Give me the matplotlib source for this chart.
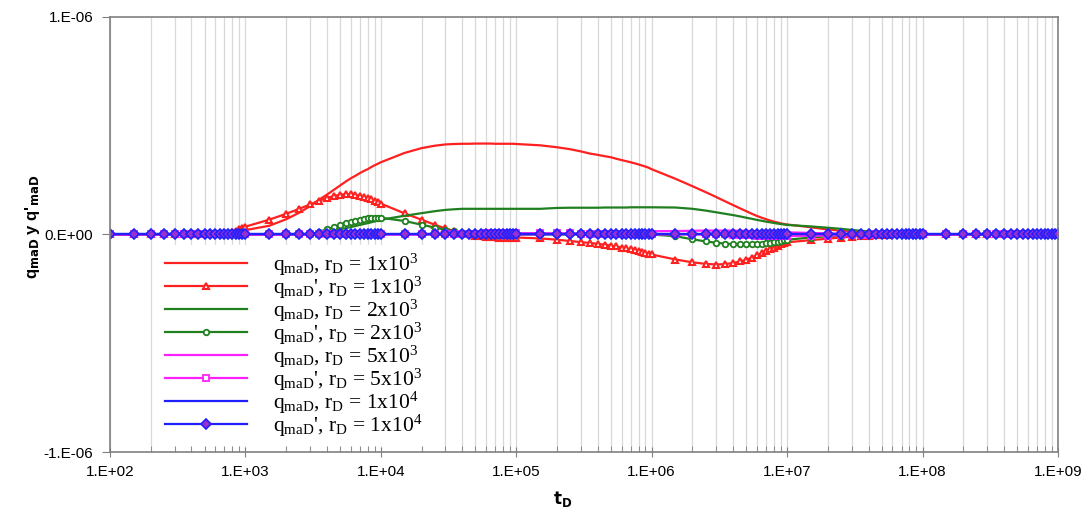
import numpy as np
import matplotlib
matplotlib.use("Agg")
import matplotlib.pyplot as plt

# tiempo adimensional: 1.0, 1.5, ..., 9.5 por decada (1e2 .. 1e9)
mult = [1.0, 1.5, 2.0, 2.5, 3.0, 3.5, 4.0, 4.5, 5.0, 5.5, 6.0, 6.5, 7.0, 7.5, 8.0, 8.5, 9.0, 9.5]
decadas = [2, 3, 4, 5, 6, 7, 8]
t_D = np.array([m * 10.0 ** d for d in decadas for m in mult] + [1e9])

# valores en unidades de 1e-6, una fila por decada
q_1e3 = [
    [0, 0, 0, 0, 0, 0, 0, 0, 0, 0, 0, 0, 0.0, 0.002, 0.005, 0.008, 0.012, 0.016],
    [0.02, 0.04, 0.07, 0.10, 0.13, 0.16, 0.183, 0.205, 0.225, 0.243, 0.258, 0.27, 0.282, 0.292, 0.30, 0.31, 0.318, 0.325],
    [0.332, 0.375, 0.397, 0.408, 0.414, 0.416, 0.417, 0.417, 0.418, 0.418, 0.418, 0.418, 0.417, 0.417, 0.417, 0.417, 0.417, 0.417],
    [0.416, 0.41, 0.401, 0.392, 0.382, 0.372, 0.366, 0.36, 0.355, 0.348, 0.342, 0.337, 0.332, 0.327, 0.322, 0.317, 0.312, 0.307],
    [0.30, 0.256, 0.222, 0.195, 0.172, 0.152, 0.135, 0.12, 0.107, 0.095, 0.085, 0.077, 0.07, 0.064, 0.059, 0.055, 0.051, 0.048],
    [0.046, 0.033, 0.023, 0.017, 0.013, 0.009, 0.006, 0.004, 0.002, 0.001, 0, 0, 0, 0, 0, 0, 0, 0],
    [0, 0, 0, 0, 0, 0, 0, 0, 0, 0, 0, 0, 0, 0, 0, 0, 0, 0],
    [0],
]
dq_1e3 = [
    [0, 0, 0, 0, 0, 0, 0, 0, 0, 0, 0, 0, 0.0, 0.005, 0.012, 0.018, 0.024, 0.029],
    [0.036, 0.068, 0.095, 0.118, 0.138, 0.155, 0.168, 0.177, 0.183, 0.185, 0.184, 0.181, 0.177, 0.172, 0.167, 0.161, 0.155, 0.149],
    [0.142, 0.097, 0.068, 0.045, 0.028, 0.016, 0.007, 0.0, -0.005, -0.008, -0.010, -0.012, -0.013, -0.014, -0.014, -0.014, -0.014, -0.014],
    [-0.014, -0.018, -0.024, -0.030, -0.035, -0.039, -0.043, -0.047, -0.051, -0.055, -0.06, -0.064, -0.068, -0.072, -0.076, -0.08, -0.084, -0.088],
    [-0.092, -0.115, -0.128, -0.135, -0.138, -0.136, -0.131, -0.124, -0.116, -0.106, -0.096, -0.086, -0.077, -0.068, -0.06, -0.052, -0.045, -0.040],
    [-0.036, -0.026, -0.019, -0.014, -0.010, -0.007, -0.005, -0.003, -0.002, -0.001, 0, 0, 0, 0, 0, 0, 0, 0],
    [0, 0, 0, 0, 0, 0, 0, 0, 0, 0, 0, 0, 0, 0, 0, 0, 0, 0],
    [0],
]
q_2e3 = [
    [0, 0, 0, 0, 0, 0, 0, 0, 0, 0, 0, 0, 0, 0, 0, 0, 0, 0],
    [0, 0, 0, 0, 0.0, 0.006, 0.012, 0.018, 0.024, 0.029, 0.034, 0.039, 0.044, 0.048, 0.052, 0.056, 0.06, 0.064],
    [0.068, 0.086, 0.098, 0.107, 0.113, 0.116, 0.118, 0.118, 0.118, 0.118, 0.118, 0.118, 0.118, 0.118, 0.118, 0.118, 0.118, 0.118],
    [0.118, 0.118, 0.122, 0.123, 0.123, 0.123, 0.123, 0.124, 0.124, 0.124, 0.124, 0.124, 0.125, 0.125, 0.125, 0.125, 0.125, 0.125],
    [0.125, 0.124, 0.118, 0.11, 0.102, 0.095, 0.089, 0.083, 0.077, 0.072, 0.067, 0.063, 0.059, 0.056, 0.053, 0.05, 0.048, 0.046],
    [0.044, 0.037, 0.031, 0.026, 0.021, 0.017, 0.014, 0.011, 0.009, 0.007, 0.005, 0.004, 0.003, 0.002, 0.002, 0.001, 0.001, 0.0],
    [0, 0, 0, 0, 0, 0, 0, 0, 0, 0, 0, 0, 0, 0, 0, 0, 0, 0],
    [0],
]
dq_2e3 = [
    [0, 0, 0, 0, 0, 0, 0, 0, 0, 0, 0, 0, 0, 0, 0, 0, 0, 0],
    [0, 0, 0, 0, 0.0, 0.012, 0.024, 0.034, 0.043, 0.051, 0.058, 0.064, 0.068, 0.072, 0.075, 0.077, 0.078, 0.078],
    [0.077, 0.062, 0.045, 0.032, 0.022, 0.014, 0.008, 0.004, 0.002, 0.001, 0, 0, 0, 0, 0, 0, 0, 0],
    [0, 0, 0, 0, 0, 0, 0, 0, 0, 0, 0, 0, 0, 0, 0, 0, 0, 0],
    [0.0, -0.008, -0.022, -0.032, -0.038, -0.042, -0.045, -0.046, -0.046, -0.046, -0.045, -0.043, -0.041, -0.039, -0.036, -0.033, -0.030, -0.027],
    [-0.024, -0.014, -0.008, -0.005, -0.003, -0.002, -0.001, 0, 0, 0, 0, 0, 0, 0, 0, 0, 0, 0],
    [0, 0, 0, 0, 0, 0, 0, 0, 0, 0, 0, 0, 0, 0, 0, 0, 0, 0],
    [0],
]
q_5e3 = [
    [0, 0, 0, 0, 0, 0, 0, 0, 0, 0, 0, 0, 0, 0, 0, 0, 0, 0],
    [0, 0, 0, 0, 0, 0, 0, 0, 0, 0, 0, 0, 0, 0, 0, 0, 0, 0],
    [0, 0, 0, 0, 0, 0, 0, 0, 0, 0, 0, 0, 0, 0, 0, 0, 0, 0],
    [0.0, 0.001, 0.002, 0.003, 0.004, 0.005, 0.006, 0.007, 0.008, 0.009, 0.010, 0.011, 0.012, 0.012, 0.013, 0.013, 0.014, 0.014],
    [0.015, 0.016, 0.017, 0.018, 0.018, 0.018, 0.018, 0.017, 0.017, 0.016, 0.015, 0.015, 0.014, 0.013, 0.013, 0.012, 0.012, 0.011],
    [0.010, 0.007, 0.005, 0.003, 0.002, 0.001, 0, 0, 0, 0, 0, 0, 0, 0, 0, 0, 0, 0],
    [0, 0, 0, 0, 0, 0, 0, 0, 0, 0, 0, 0, 0, 0, 0, 0, 0, 0],
    [0],
]
dq_5e3 = [
    [0, 0, 0, 0, 0, 0, 0, 0, 0, 0, 0, 0, 0, 0, 0, 0, 0, 0],
    [0, 0, 0, 0, 0, 0, 0, 0, 0, 0, 0, 0, 0, 0, 0, 0, 0, 0],
    [0, 0, 0, 0, 0, 0, 0, 0.002, 0.003, 0.004, 0.005, 0.005, 0.006, 0.006, 0.006, 0.006, 0.006, 0.006],
    [0.006, 0.006, 0.005, 0.005, 0.004, 0.004, 0.003, 0.003, 0.002, 0.002, 0.001, 0.001, 0, 0, 0, 0, 0, 0],
    [0, 0, 0, 0, 0, 0, -0.001, -0.002, -0.003, -0.004, -0.005, -0.006, -0.006, -0.007, -0.007, -0.007, -0.007, -0.007],
    [-0.007, -0.006, -0.005, -0.004, -0.003, -0.002, -0.001, 0, 0, 0, 0, 0, 0, 0, 0, 0, 0, 0],
    [0, 0, 0, 0, 0, 0, 0, 0, 0, 0, 0, 0, 0, 0, 0, 0, 0, 0],
    [0],
]
q_1e4 = [0.0] * len(t_D)
dq_1e4 = [0.0] * len(t_D)


def serie(filas):
    return np.concatenate([np.array(f, dtype=float) for f in filas]) * 1e-6


plt.rcParams['font.family'] = ['Liberation Sans', 'DejaVu Sans']
plt.rcParams['mathtext.fontset'] = 'custom'
plt.rcParams['mathtext.rm'] = 'Liberation Serif'
plt.rcParams['mathtext.it'] = 'Liberation Serif:italic'

fig = plt.figure(figsize=(10.88, 5.14), dpi=100)
ax = fig.add_axes([0.101, 0.1206, 0.8714, 0.8464])

lw = 1.6
ax.plot(t_D, serie(q_1e3), color='#ff2020', lw=lw,
        label=r'q$_{\rm maD}$, r$_{\rm D}$ = 1x10$^{3}$')
ax.plot(t_D, serie(dq_1e3), color='#ff2020', lw=lw, marker='^', ms=4,
        mfc='white', mew=1.5, label=r"q$_{\rm maD}$', r$_{\rm D}$ = 1x10$^{3}$")
ax.plot(t_D, serie(q_2e3), color='#208020', lw=lw,
        label=r'q$_{\rm maD}$, r$_{\rm D}$ = 2x10$^{3}$')
ax.plot(t_D, serie(dq_2e3), color='#208020', lw=lw, marker='o', ms=4,
        mfc='white', mew=1.3, label=r"q$_{\rm maD}$', r$_{\rm D}$ = 2x10$^{3}$")
ax.plot(t_D, serie(q_5e3), color='#ff20ff', lw=lw,
        label=r'q$_{\rm maD}$, r$_{\rm D}$ = 5x10$^{3}$')
ax.plot(t_D, serie(dq_5e3), color='#ff20ff', lw=lw, marker='s', ms=4.5,
        mfc='white', mew=1.3, label=r"q$_{\rm maD}$', r$_{\rm D}$ = 5x10$^{3}$")
ax.plot(t_D, np.array(q_1e4) * 1e-6, color='#2020ff', lw=lw,
        label=r'q$_{\rm maD}$, r$_{\rm D}$ = 1x10$^{4}$')
ax.plot(t_D, np.array(dq_1e4) * 1e-6, color='#2020ff', lw=lw, marker='D',
        ms=5, mfc='#9a30d0', mec='#2020ff', mew=1.2,
        label=r"q$_{\rm maD}$', r$_{\rm D}$ = 1x10$^{4}$")

ax.set_xscale('log')
ax.set_xlim(1e2, 1e9)
ax.set_ylim(-1e-6, 1e-6)
ax.set_yticks([-1e-6, 0, 1e-6])
ax.set_yticklabels(['-1.E-06', '0.E+00', '1.E-06'])
ax.set_xticks([10.0 ** d for d in range(2, 10)])
ax.set_xticklabels(['1.E+%02d' % d for d in range(2, 10)])

ax.grid(True, which='both', axis='x', color='#d8d8d8', lw=0.9)
ax.set_axisbelow(True)
for s in ax.spines.values():
    s.set_color('#808080')
    s.set_linewidth(1.2)
ax.tick_params(axis='x', which='major', direction='inout', length=7, color='#808080',
               labelsize=11, pad=6)
ax.tick_params(axis='x', which='minor', direction='in', length=4, color='#808080')
ax.tick_params(axis='y', which='major', direction='out', length=6, color='#808080',
               labelsize=11, pad=6)

ax.set_xlabel(r'$\mathbf{t_D}$', fontsize=12, fontweight='bold')
ax.xaxis.set_label_coords(0.478, -0.085)
ax.set_ylabel("q$_{\\mathbf{maD}}$ y q'$_{\\mathbf{maD}}$", fontsize=12, fontweight='bold')
ax.yaxis.set_label_coords(-0.072, 0.517)

leg = ax.legend(loc='upper left', bbox_to_anchor=(0.04, 0.5), frameon=True,
                handlelength=3.8, handletextpad=1.2, labelspacing=-0.15,
                borderpad=0.3, fancybox=False, prop={'family': 'Liberation Serif', 'size': 15.5})
leg.get_frame().set_edgecolor('white')
leg.get_frame().set_facecolor('white')
leg.get_frame().set_alpha(1.0)

fig.savefig('out.png', dpi=100)
